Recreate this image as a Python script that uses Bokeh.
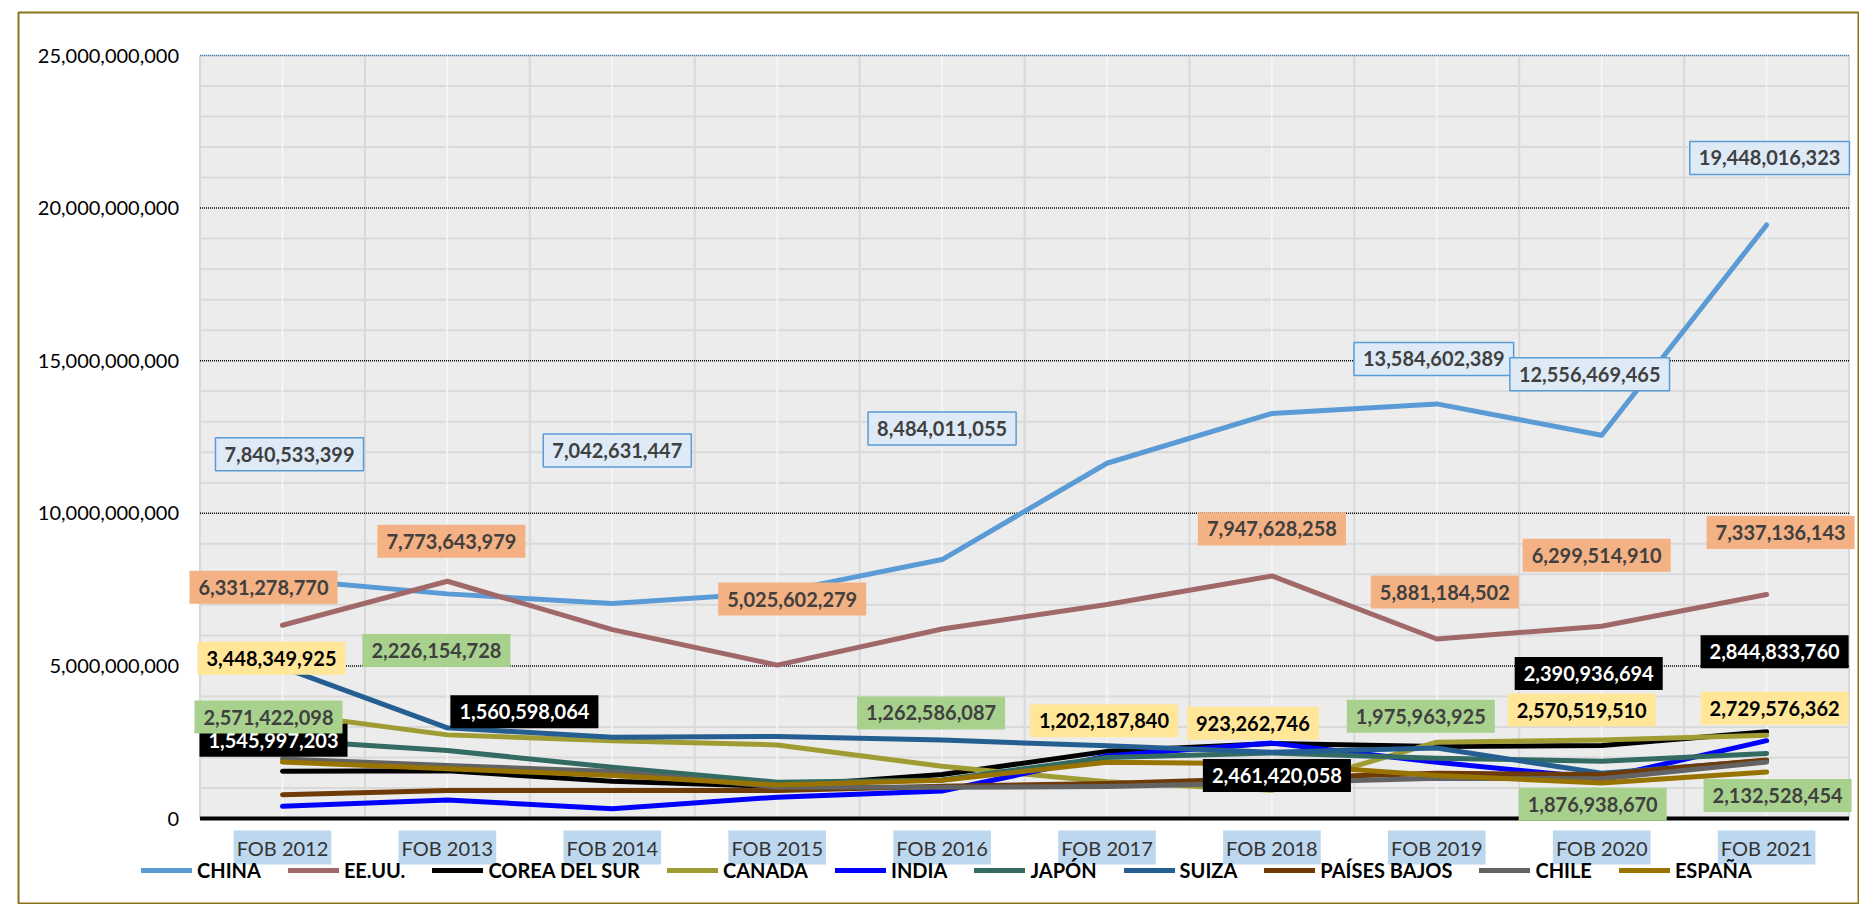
from bokeh.plotting import figure
from bokeh.models import (Label, Legend, LegendItem, Range1d, BoxAnnotation)
from bokeh.embed import file_html
from bokeh.resources import INLINE

# ---------------- data ----------------
years = ["FOB 2012", "FOB 2013", "FOB 2014", "FOB 2015", "FOB 2016",
         "FOB 2017", "FOB 2018", "FOB 2019", "FOB 2020", "FOB 2021"]

china = [7840533399, 7360000000, 7042631447, 7400000000, 8484011055,
         11640000000, 13270000000, 13584602389, 12556469465, 19448016323]
eeuu = [6331278770, 7773643979, 6190000000, 5025602279, 6210000000,
        7010000000, 7947628258, 5881184502, 6299514910, 7337136143]
corea = [1545997203, 1560598064, 1220000000, 1050000000, 1440000000,
         2200000000, 2461420058, 2360000000, 2390936694, 2844833760]
canada = [3448349925, 2740000000, 2550000000, 2410000000, 1710000000,
          1202187840, 923262746, 2500000000, 2570519510, 2729576362]
india = [400000000, 610000000, 320000000, 700000000, 900000000,
         2050000000, 2470000000, 1840000000, 1320000000, 2550000000]
japon = [2571422098, 2226154728, 1680000000, 1190000000, 1262586087,
         2000000000, 2150000000, 1975963925, 1876938670, 2132528454]
suiza = [4950000000, 2970000000, 2660000000, 2690000000, 2570000000,
         2380000000, 2170000000, 2310000000, 1480000000, 1900000000]
paises_bajos = [780000000, 920000000, 920000000, 920000000, 1060000000,
                1150000000, 1320000000, 1480000000, 1440000000, 1920000000]
chile = [1950000000, 1740000000, 1540000000, 1030000000, 1020000000,
         1050000000, 1170000000, 1320000000, 1300000000, 1850000000]
espana = [1850000000, 1630000000, 1410000000, 1100000000, 1250000000,
          1840000000, 1790000000, 1410000000, 1160000000, 1520000000]

names = ["CHINA", "EE.UU.", "COREA DEL SUR", "CANADA", "INDIA", "JAPÓN",
         "SUIZA", "PAÍSES BAJOS", "CHILE", "ESPAÑA"]
values = [china, eeuu, corea, canada, india, japon, suiza, paises_bajos, chile, espana]

y_ticks = [0, 5000000000, 10000000000, 15000000000, 20000000000, 25000000000]
y_minor = [i * 1000000000 for i in range(26)]

# which points carry a data label (per series)
label_idx = {
    "CHINA": [0, 2, 4, 7, 8, 9],
    "EE.UU.": [0, 1, 3, 6, 7, 8, 9],
    "COREA DEL SUR": [0, 1, 6, 8, 9],
    "CANADA": [0, 5, 6, 8, 9],
    "JAPÓN": [0, 1, 4, 7, 8, 9],
}

# ---------------- styles / layout ----------------
colors = ["#5B9BD5", "#A06868", "#000000", "#A09C34", "#0000FF", "#336B63",
          "#255E91", "#6E3A07", "#636363", "#997300"]

label_offsets = {  # (dx, dy) in screen px, dy negative = above the point
    "CHINA": ([7, 5, 0, -3, -12, 3], [-125, -153, -131, -45, -61, -67]),
    "EE.UU.": ([-19, 4, 15, 0, 8, -5, 14], [-38, -40, -66, -47, -47, -71, -62]),
    "COREA DEL SUR": ([-9, 77, 5, -13, 8], [-31, -59, 32, -72, -80]),
    "CANADA": ([-11, -3, -19, -20, 8], [-55, -61, -67, -30, -27]),
    "JAPÓN": ([-14, -11, -11, -16, -9, 11], [-23, -100, -67, -42, 43, 42]),
}
label_style = {
    "CHINA": dict(fill="#DEEBF7", text="#404040", border="#5B9BD5"),
    "EE.UU.": dict(fill="#F4B183", text="#404040", border=None),
    "COREA DEL SUR": dict(fill="#000000", text="#FFFFFF", border=None),
    "CANADA": dict(fill="#FFE699", text="#000000", border=None),
    "JAPÓN": dict(fill="#A9D18E", text="#404040", border=None),
}

FONT = "Lato"

# page geometry (px): chart frame and plot-area scale
FL, FT, FR, FB = 18, 12, 1859, 904
X0, DX = 282.0, 164.9          # page x of first category, px per category
Y0, PXU = 818.0, 30.52e-9      # page y of zero, px per unit

n = len(years)
xs = list(range(n))

p = figure(width=FR, height=FB,
           x_range=Range1d((FL - X0) / DX, (FR - X0) / DX),
           y_range=Range1d((Y0 - FB) / PXU, (Y0 - FT) / PXU),
           x_axis_location=None, y_axis_location=None,
           output_backend="svg", toolbar_location=None,
           min_border_left=FL, min_border_top=FT,
           min_border_right=0, min_border_bottom=0)
p.grid.visible = False
p.background_fill_color = "white"
p.border_fill_color = "white"
p.outline_line_color = "#8C7316"
p.outline_line_width = 2

xmin, xmax = -0.5, n - 0.5
ymax = y_ticks[-1]

# plot area
p.add_layout(BoxAnnotation(left=xmin, right=xmax, bottom=0, top=ymax,
                           fill_color="#ECECEC", fill_alpha=1, line_color=None,
                           level="underlay"))

# minor horizontal grid
minor_h = [t for t in y_minor if t not in y_ticks]
p.segment(x0=[xmin] * len(minor_h), x1=[xmax] * len(minor_h), y0=minor_h, y1=minor_h,
          line_color="#D9D9D9", line_width=2)
# vertical grid: category boundaries and centres
bounds = [i - 0.5 for i in range(n + 1)]
p.segment(x0=bounds, x1=bounds, y0=[0] * len(bounds), y1=[ymax] * len(bounds),
          line_color="#D9D9D9", line_width=2)
p.segment(x0=xs, x1=xs, y0=[0] * n, y1=[ymax] * n, line_color="#F7F7F7", line_width=1.5)
# major dotted grid
major = [t for t in y_ticks if 0 < t < ymax]
p.segment(x0=[xmin] * len(major), x1=[xmax] * len(major), y0=major, y1=major,
          line_color="#000000", line_width=1.5, line_dash="1 1")
# plot-area border
p.add_layout(BoxAnnotation(left=xmin, right=xmax, bottom=0, top=ymax,
                           fill_alpha=0, line_color="#5B9BD5", line_width=1.5,
                           level="underlay"))
p.segment(x0=[xmin], x1=[xmax], y0=[ymax], y1=[ymax], line_color="#41719C",
          line_width=1.5, line_dash="1 1")

# lines
items = []
for name, vals, col in zip(names, values, colors):
    r = p.line(xs, vals, line_color=col, line_width=5, line_cap="round", line_join="round")
    items.append(LegendItem(label=name, renderers=[r]))

# x axis line
p.segment(x0=[xmin], x1=[xmax], y0=[0], y1=[0], line_color="#000000", line_width=4)

# y tick labels
for t in y_ticks:
    p.add_layout(Label(x=xmin, y=t, x_offset=-21, text=f"{t:,}", text_align="right",
                       text_baseline="middle", text_font=FONT, text_font_size="20px",
                       text_color="#000000"))


def add_label(**kw):
    pad = kw.pop("pad", None)
    lab = None
    if pad is not None:
        for form in (dict(left=pad[0], right=pad[0], top=pad[1], bottom=pad[1]), pad):
            try:
                lab = Label(padding=form, **kw)
                break
            except Exception:
                lab = None
    if lab is None:
        lab = Label(**kw)
    p.add_layout(lab)


# category labels
for i, yr in enumerate(years):
    add_label(x=xs[i], y=0, y_offset=-29, text=yr, text_align="center",
              text_baseline="middle", text_font=FONT, text_font_size="20px",
              text_color="#333333", background_fill_color="#BDD7EE", pad=(3, 5))

# data labels
for name, vals in zip(names, values):
    if name not in label_idx:
        continue
    dx, dy = label_offsets[name]
    st = label_style[name]
    for k, i in enumerate(label_idx[name]):
        kw = dict(x=xs[i], y=vals[i], x_offset=dx[k], y_offset=-dy[k],
                  text=f"{vals[i]:,}", text_align="center", text_baseline="middle",
                  text_font=FONT, text_font_style="bold", text_font_size="20px",
                  text_color=st["text"], background_fill_color=st["fill"], pad=(9, 9))
        if st["border"]:
            kw.update(border_line_color=st["border"], border_line_width=1.5)
        add_label(**kw)

legend = Legend(items=items, orientation="horizontal", location=(141 - FL, FB - 882),
                glyph_width=51, glyph_height=20, label_height=20, label_standoff=5, spacing=27,
                padding=0, margin=0, border_line_color=None, background_fill_alpha=0,
                label_text_font=FONT, label_text_font_style="bold",
                label_text_font_size="20px", label_text_color="#000000")
p.add_layout(legend)

open("out.html", "w").write(file_html(p, INLINE))
